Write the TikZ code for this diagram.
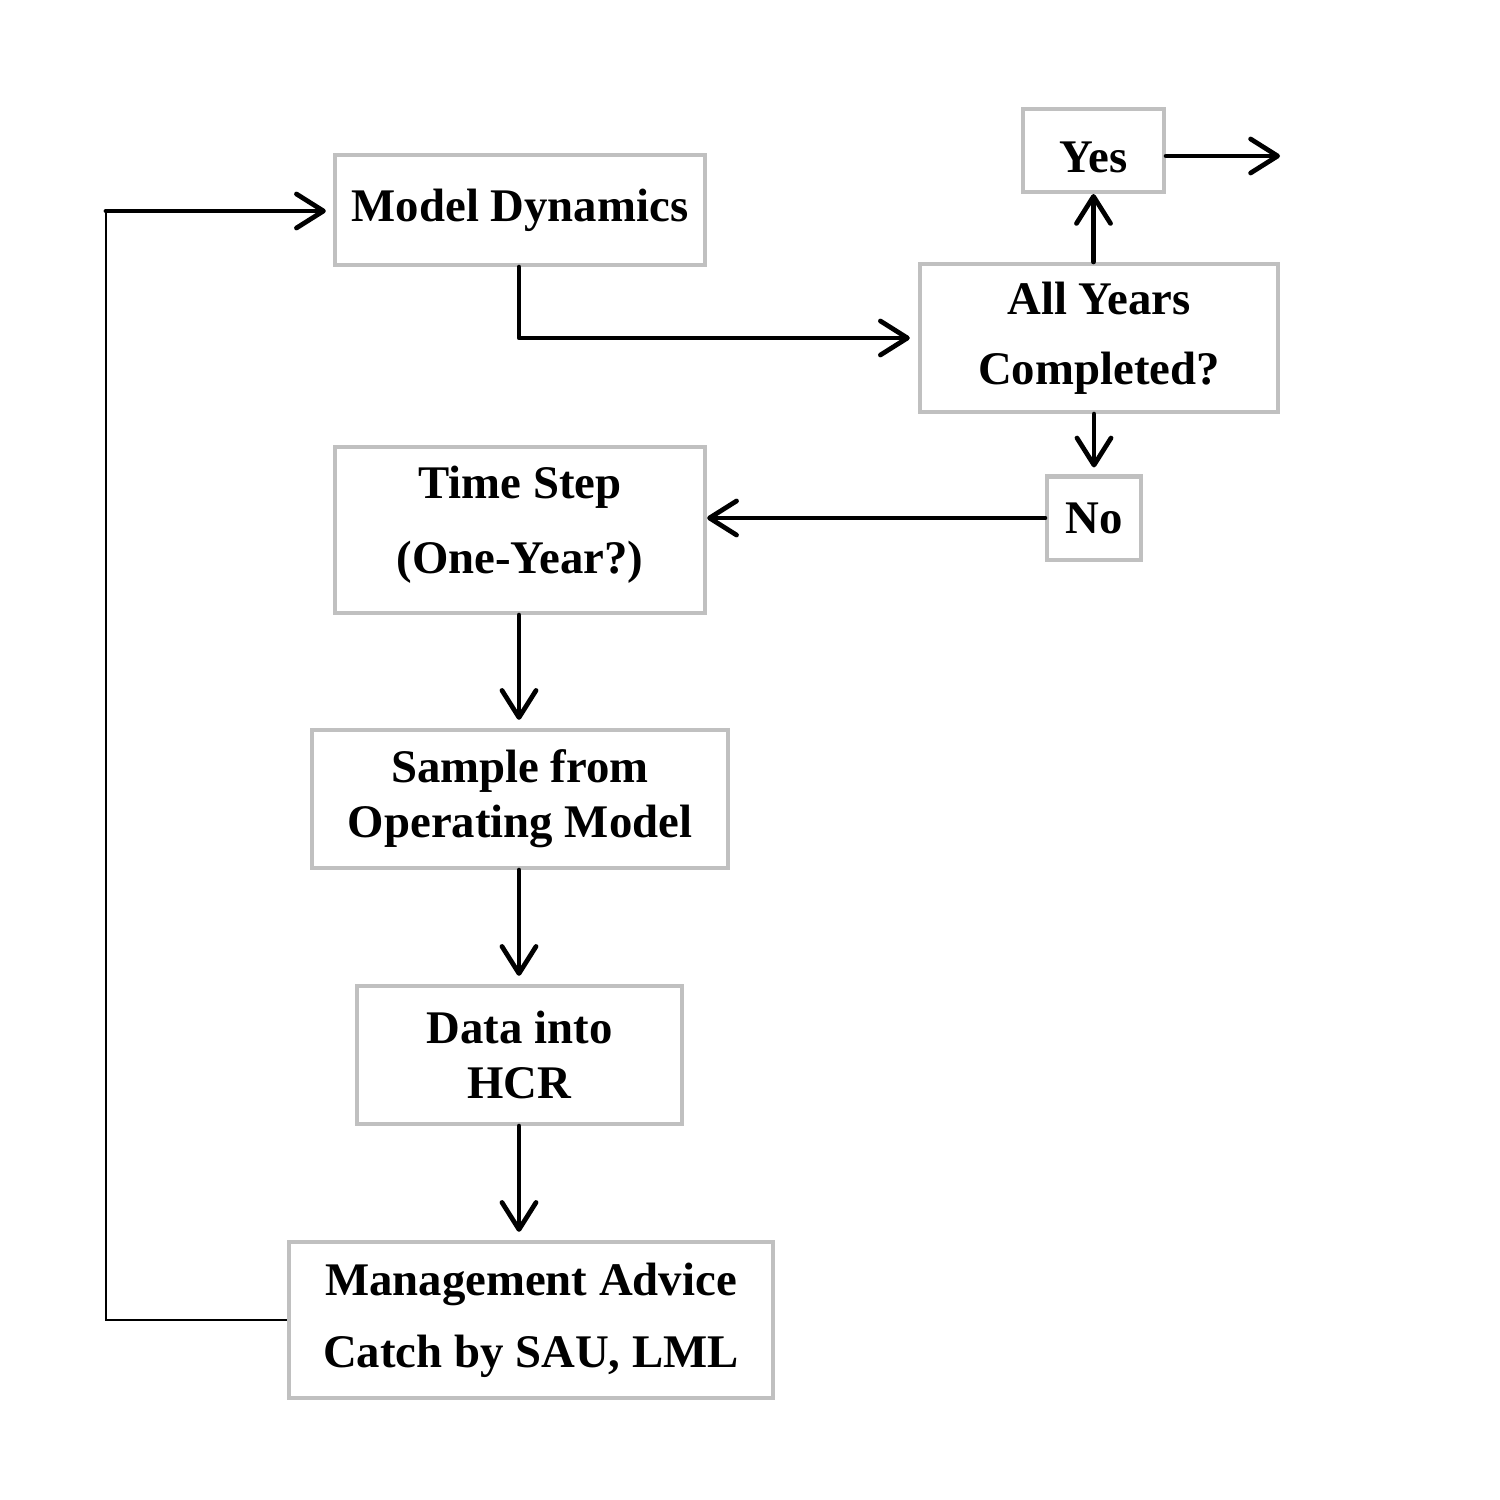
\documentclass[tikz,border=0pt]{standalone}
\usepackage{fontspec}
\setmainfont{Liberation Serif}
\usetikzlibrary{arrows.meta}
\definecolor{boxgray}{RGB}{192,192,192}
\begin{document}
\begin{tikzpicture}[x=0.01cm,y=-0.01cm,
  box/.style={draw=boxgray,line width=1.15pt,fill=white,inner sep=0pt,align=center,
    font=\bfseries\fontsize{13.3}{#1}\selectfont},
  box/.default=20,
  arr/.style={line width=1.35pt,line cap=round,line join=round,
    -{Straight Barb[length=2.7mm,width=3.4mm,line cap=round,line join=round]}},
  thinline/.style={line width=0.6pt}]
\useasboundingbox (0,0) rectangle (1500,1500);
\node[box,minimum width=3.70cm,minimum height=1.10cm] (md) at (520,210) {Model Dynamics};
\node[box,minimum width=1.41cm,minimum height=0.83cm,text height=12.6pt] (yes) at (1093.5,150.5) {Yes};
\node[box=19.9,minimum width=3.58cm,minimum height=1.48cm] (ay) at (1099,338) {All Years\\Completed?};
\node[box,minimum width=0.94cm,minimum height=0.83cm] (no) at (1094,518) {No};
\node[box=21.3,minimum width=3.70cm,minimum height=1.66cm,text depth=6pt] (ts) at (520,530) {Time Step\\(One-Year?)};
\node[box=15.6,minimum width=4.16cm,minimum height=1.38cm] (sm) at (520,799) {Sample from\\Operating Model};
\node[box=15.4,minimum width=3.25cm,minimum height=1.38cm] (dh) at (519.5,1055) {Data into\\HCR};
\node[box=20.5,minimum width=4.84cm,minimum height=1.56cm] (ma) at (531,1320) {Management Advice\\Catch by SAU, LML};
\coordinate (fbl) at (106,1320);
\coordinate (fbt) at (106,211);
\coordinate (yesout) at (1280,156);
\draw[thinline] (ma.west) -- (fbl) -- (fbt);
\draw[arr,shorten >=2pt] (fbt) -- (md.west |- fbt);
\draw[arr,shorten >=2.3pt] (md.south -| 519,0) |- (ay.west);
\draw[arr] (ay.north -| yes.south) -- (yes.south);
\draw[arr] (yes.east |- yesout) -- (yesout);
\draw[arr,shorten >=2pt] (ay.south -| no.north) -- (no.north);
\draw[arr] (no.west) -- (no.west -| ts.east);
\draw[arr,shorten >=2.3pt] (ts.south -| 519,0) -- (sm.north -| 519,0);
\draw[arr,shorten >=2.3pt] (sm.south -| 519,0) -- (dh.north -| 519,0);
\draw[arr,shorten >=2.3pt] (dh.south -| 519,0) -- (ma.north -| 519,0);
\end{tikzpicture}
\end{document}
